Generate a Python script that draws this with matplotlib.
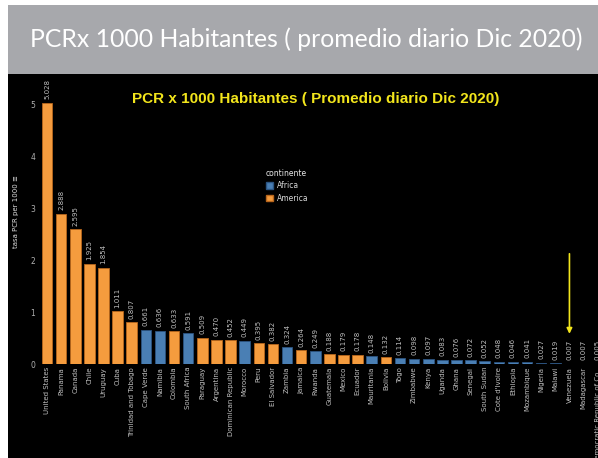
import matplotlib
matplotlib.use("Agg")
import matplotlib.pyplot as plt
from matplotlib.patches import Rectangle, Patch

countries = ["United States", "Panama", "Canada", "Chile", "Uruguay", "Cuba",
             "Trinidad and Tobago", "Cape Verde", "Namibia", "Colombia", "South Africa",
             "Paraguay", "Argentina", "Dominican Republic", "Morocco", "Peru",
             "El Salvador", "Zambia", "Jamaica", "Rwanda", "Guatemala", "Mexico",
             "Ecuador", "Mauritania", "Bolivia", "Togo", "Zimbabwe", "Kenya", "Uganda",
             "Ghana", "Senegal", "South Sudan", "Cote d'Ivoire", "Ethiopia",
             "Mozambique", "Nigeria", "Malawi", "Venezuela", "Madagascar",
             "Democratic Republic of Co.."]
values = [5.028, 2.888, 2.595, 1.925, 1.854, 1.011, 0.807, 0.661, 0.636, 0.633,
          0.591, 0.509, 0.470, 0.452, 0.449, 0.395, 0.382, 0.324, 0.264, 0.249,
          0.188, 0.179, 0.178, 0.148, 0.132, 0.114, 0.098, 0.097, 0.083, 0.076,
          0.072, 0.052, 0.048, 0.046, 0.041, 0.027, 0.019, 0.007, 0.007, 0.005]
continent = ["America", "America", "America", "America", "America", "America",
             "America", "Africa", "Africa", "America", "Africa", "America",
             "America", "America", "Africa", "America", "America", "Africa",
             "America", "Africa", "America", "America", "America", "Africa",
             "America", "Africa", "Africa", "Africa", "Africa", "Africa", "Africa",
             "Africa", "Africa", "Africa", "Africa", "Africa", "Africa", "America",
             "Africa", "Africa"]
yticks = [0, 1, 2, 3, 4, 5]
highlight = "Venezuela"

W, H = 598, 458
fig = plt.figure(figsize=(W / 100, H / 100), dpi=100)
fig.patch.set_facecolor("white")

def fx(px):
    return px / W

def fy(py):
    return 1 - py / H

# header band and black panel
fig.add_artist(Rectangle((fx(8), fy(74)), 1, fy(5) - fy(74), transform=fig.transFigure,
                         facecolor="#a7a8ac", edgecolor="none", zorder=0))
fig.add_artist(Rectangle((fx(8), 0), 1, fy(74), transform=fig.transFigure,
                         facecolor="black", edgecolor="none", zorder=0))
header = fig.text(fx(306), fy(39), "PCRx 1000 Habitantes ( promedio diario Dic 2020)",
                  color="white", fontsize=18, family="Lato", ha="center", va="center")
# fit header width to ~552 px
renderer = fig.canvas.get_renderer()
w = header.get_window_extent(renderer).width
header.set_fontsize(18 * 552 / w)

colors = {"America": "#F59C3E", "Africa": "#4A7FB4"}
edges = {"America": "#b8661c", "Africa": "#2b5481"}

n = len(countries)
spacing = 14.12
left_px = 47 - 0.5 * spacing
ax = fig.add_axes([fx(left_px), fy(364), fx(n * spacing), fy(364 - 5.5 * 52) - fy(364)])
ax.set_facecolor("none")
ax.patch.set_alpha(0)
x = list(range(n))
ax.bar(x, values, width=0.75,
       color=[colors[c] for c in continent],
       edgecolor=[edges[c] for c in continent], linewidth=0.6)
for xi, v in zip(x, values):
    ax.annotate(f"{v:.3f}", (xi, v), xytext=(0, 2.5), textcoords="offset points",
                rotation=90, ha="center", va="bottom", fontsize=5, color="#c0c0c0",
                annotation_clip=False)
ax.set_xlim(-0.5, n - 0.5)
ax.set_ylim(0, 5.5)
ax.set_xticks(x)
ax.set_xticklabels(countries, rotation=90, fontsize=5, color="#c0c0c0")
ax.set_yticks(yticks)
ax.set_yticklabels([str(t) for t in yticks], fontsize=5.5, color="#b0b0b0")
ax.tick_params(axis="x", length=0, pad=2)
ax.tick_params(axis="y", length=0, pad=3.5)
for s in ax.spines.values():
    s.set_visible(False)

fig.text(fx(16), fy(212), "tasa PCR per 1000 \u2261", rotation=90, fontsize=5,
         color="#e0e0e0", ha="center", va="center")

fig.text(fx(316), fy(99), "PCR x 1000 Habitantes ( Promedio diario Dic 2020)",
         color="#f2e51c", fontsize=11, fontweight="bold", family="Liberation Sans",
         ha="center", va="center")

hi = countries.index(highlight)
ax.annotate("", xy=(hi, 0.58), xytext=(hi, 2.12),
            arrowprops=dict(arrowstyle="-|>", color="#f2e51c", lw=1.2, mutation_scale=8,
                            shrinkA=0, shrinkB=0))

handles = [Patch(facecolor=colors["Africa"], edgecolor=edges["Africa"], label="Africa"),
           Patch(facecolor=colors["America"], edgecolor=edges["America"], label="America")]
leg = fig.legend(handles=handles, title="continente", loc="upper left",
                 bbox_to_anchor=(fx(262), fy(165)), frameon=False, fontsize=5.5,
                 title_fontsize=5.5, handlelength=1.0, handleheight=1.0,
                 handletextpad=0.5, labelspacing=0.45, alignment="left",
                 labelcolor="#d8d8d8", borderpad=0)
leg.get_title().set_color("#e8e8e8")

fig.savefig("out.png", dpi=100, facecolor=fig.get_facecolor())
